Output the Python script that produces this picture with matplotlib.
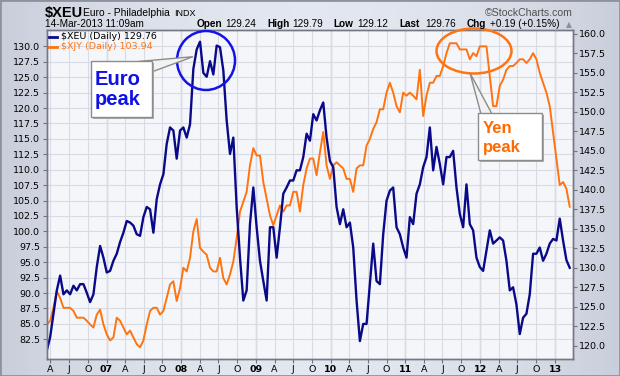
import numpy as np
import pandas as pd
import matplotlib
matplotlib.use("Agg")
import matplotlib.pyplot as plt
from matplotlib.patches import Ellipse, Polygon, Rectangle

xeu = [
    119.4, 121.1, 124.1, 127.1, 129.0, 126.6, 127.1, 126.6, 127.7, 127.1, 127.9, 127.9, 126.8,
    125.6, 126.6, 130.1, 132.8, 131.3, 129.4, 129.6, 130.9, 131.8, 133.3, 134.5, 136.0,
    135.8, 135.4, 134.3, 134.1, 136.5, 137.8, 137.5, 134.5, 138.8, 140.7, 142.0, 145.9, 148.0,
    147.6, 144.0, 147.6, 148.0, 146.7, 148.4, 155.5, 158.0, 159.0, 155.0, 154.5, 156.5, 154.8, 158.5,
    158.3, 155.3, 148.9, 144.6, 146.7, 137.8, 131.3, 125.8, 127.1, 135.6, 140.3, 135.2, 130.9,
    128.3, 125.8, 135.2, 135.2, 131.3, 135.2, 139.5, 140.3, 141.2, 141.2, 142.5, 142.5, 144.2, 147.2,
    146.3, 149.7, 148.9, 150.2, 151.2, 146.7, 143.7, 142.9, 137.8, 135.6, 137.5, 135.2, 135.8,
    132.6, 125.8, 120.6, 122.8, 122.8, 127.9, 133.1, 128.3, 127.9, 134.3, 138.6, 139.9, 140.3, 135.2,
    134.3, 132.6, 131.3, 136.5, 135.6, 139.5, 140.7, 142.9, 144.2, 148.0, 142.5, 145.5, 143.3,
    140.7, 144.2, 144.2, 145.0, 140.3, 136.9, 135.2, 140.7, 135.6, 134.8, 131.3, 130.1, 129.6, 132.2,
    134.8, 133.1, 133.5, 133.9, 133.5, 130.9, 127.1, 127.5, 125.3, 121.5, 123.6, 124.1, 126.6,
    131.8, 131.8, 132.6, 130.9, 131.8, 133.1, 133.7, 133.5, 136.3, 133.5, 131.0, 130.0,
]
xjy = [
    84.9, 85.5, 87.6, 90.3, 89.2, 87.6, 87.6, 87.6, 87.1, 86.0, 86.0, 86.0, 85.5,
    84.9, 84.4, 86.5, 87.3, 84.9, 83.3, 82.3, 82.8, 86.0, 85.5, 84.4, 83.3,
    83.9, 82.8, 81.7, 81.2, 82.3, 84.9, 87.1, 87.6, 87.6, 86.5, 87.1, 89.2, 91.4,
    91.9, 88.7, 90.8, 94.1, 93.5, 95.7, 100.0, 102.0, 97.3, 96.7, 96.2, 94.1, 93.5, 93.5,
    95.7, 92.4, 91.4, 93.0, 95.1, 98.9, 103.2, 104.8, 106.4, 110.7, 113.5, 112.3, 112.3,
    108.0, 105.3, 102.6, 101.0, 102.6, 104.2, 103.2, 104.2, 104.2, 106.4, 106.4, 103.2, 107.5, 110.2,
    111.8, 111.8, 109.1, 112.8, 116.1, 110.7, 108.5, 110.7, 111.2, 110.7, 110.2, 108.5, 108.5,
    106.4, 110.2, 110.7, 110.7, 113.9, 115.0, 116.6, 117.7, 119.8, 119.8, 122.5, 124.1, 122.5, 120.3,
    119.3, 122.5, 122.0, 122.5, 122.0, 121.4, 126.2, 118.7, 122.0, 124.1, 124.1, 125.2, 125.2,
    126.8, 128.9, 130.5, 130.5, 130.5, 129.5, 129.5, 129.5, 127.9, 128.9, 128.4, 130.0, 130.0, 130.0,
    125.2, 120.3, 120.3, 123.6, 124.6, 126.2, 126.8, 126.8, 127.3, 127.9, 127.9, 127.3, 127.9,
    128.9, 127.9, 125.7, 124.1, 122.5, 120.3, 116.1, 111.8, 107.5, 108.0, 106.9, 104.0,
]
dates = pd.date_range("2006-03-15", "2013-03-14", periods=len(xeu))

quarters = pd.date_range("2006-04-01", "2013-01-01", freq="QS")
quarter_labels = [d.strftime("%y") if d.month == 1 else "AJO"[(d.month - 4) // 3]
                  for d in quarters]
left_ticks = np.arange(82.5, 130.1, 2.5)
right_ticks = np.arange(120.0, 160.1, 2.5)

BLUE = "#0a0a88"
ORANGE = "#ff7410"
W, H = 620, 376
L, R, T, B = 46.6, 573.0, 30.0, 359.0


def fx(px):
    return px / W


def fy(py):
    return 1 - py / H


def axx(px):
    return (px - L) / (R - L)


def axy(py):
    return (B - py) / (B - T)


fig = plt.figure(figsize=(6.2, 3.76), dpi=100)
fig.patch.set_facecolor("#d9dde7")

# soft panel gradient behind everything
bg = fig.add_axes([0, 0, 1, 1], zorder=-5)
gx = np.linspace(-1, 1, 200)
shade = 1 - 0.5 * np.abs(gx)[None, :] ** 2
bg.imshow(shade, cmap=plt.matplotlib.colors.LinearSegmentedColormap.from_list(
    "panel", ["#c9cedb", "#e3e7ef"]), aspect="auto", extent=[0, 1, 0, 1],
    vmin=0.5, vmax=1)
bg.axis("off")

ax = fig.add_axes([fx(L), fy(B), (R - L) / W, (B - T) / H])
ax.set_facecolor("#f5f6fa")
ax.plot(dates, xjy, color=ORANGE, lw=1.4)
ax.set_xlim(pd.Timestamp("2006-03-14"), pd.Timestamp("2013-03-30"))
ax.set_ylim(79.3, 132.65)
ax.set_yticks(left_ticks)
ax.set_yticklabels([f"{v:.1f}" for v in left_ticks])
ax.set_xticks(quarters)
ax.set_xticklabels(quarter_labels)
for lab, d in zip(ax.get_xticklabels(), quarters):
    if d.month == 1:
        lab.set_fontweight("bold")
ax.grid(True, color="#d8dbe3", lw=0.8)
for d in quarters[quarters.month == 1]:
    ax.axvline(d, color="#b9bdc8", lw=0.9, zorder=0.5)
ax.set_axisbelow(True)
ax.tick_params(axis="both", labelsize=6.8, length=3, color="#6f7380", pad=1.5)

ax2 = ax.twinx()
ax2.plot(dates, xeu, color=BLUE, lw=1.7)
ax2.set_ylim(118.3, 160.5)
ax2.set_yticks(right_ticks)
ax2.set_yticklabels([f"{v:.1f}" for v in right_ticks])
ax2.tick_params(axis="y", labelsize=6.8, length=3, color="#6f7380", pad=1.5)
for a in (ax, ax2):
    for s in a.spines.values():
        s.set_color("#747886")
        s.set_linewidth(1.0)

# legend
ax2.plot([axx(48), axx(57)], [axy(36.7)] * 2, color=BLUE, lw=2, transform=ax2.transAxes)
ax2.plot([axx(48), axx(57)], [axy(46.7)] * 2, color=ORANGE, lw=2, transform=ax2.transAxes)
ax2.text(axx(61), axy(36.7), "$XEU (Daily) 129.76", transform=ax2.transAxes,
         fontsize=6.8, va="center", color="black")
ax2.text(axx(61), axy(46.7), "$XJY (Daily) 103.94", transform=ax2.transAxes,
         fontsize=6.8, va="center", color=ORANGE)

# annotations
ax2.add_patch(Ellipse((axx(206), axy(60.5)), 58 / (R - L), 59 / (B - T),
                      transform=ax2.transAxes, fill=False, ec="#1414e6", lw=1.8,
                      clip_on=False, zorder=5))
ax2.add_patch(Ellipse((axx(474), axy(51)), 75 / (R - L), 45 / (B - T),
                      transform=ax2.transAxes, fill=False, ec=ORANGE, lw=1.8,
                      clip_on=False, zorder=5))

ax2.add_patch(Polygon([(axx(193), axy(56.7)), (axx(138), axy(61.5)), (axx(151.5), axy(72))],
                      closed=True, transform=ax2.transAxes, fc="#f2f2f2", ec="#8c8c8c",
                      lw=1, zorder=6))
ax2.add_patch(Polygon([(axx(470), axy(73)), (axx(481), axy(114)), (axx(492), axy(114))],
                      closed=True, transform=ax2.transAxes, fc="#f2f2f2", ec="#8c8c8c",
                      lw=1, zorder=6))

for x0, y0, x1, y1 in [(90.7, 61, 151.7, 117), (478, 113, 542, 160)]:
    ax2.add_patch(Rectangle((axx(x0 + 2), axy(y1 + 2)), (x1 - x0) / (R - L), (y1 - y0) / (B - T),
                            transform=ax2.transAxes, fc="#a9abb3", ec="none", zorder=7))
    ax2.add_patch(Rectangle((axx(x0), axy(y1)), (x1 - x0) / (R - L), (y1 - y0) / (B - T),
                            transform=ax2.transAxes, fc="white", ec="#8c8c8c", lw=1, zorder=8))

box_font = dict(family="Liberation Sans", fontweight="bold", transform=ax2.transAxes,
                va="baseline", zorder=9)
ax2.text(axx(95), axy(85), "Euro", fontsize=14.5, color="#1010e8", **box_font)
ax2.text(axx(95), axy(105), "peak", fontsize=14.5, color="#1010e8", **box_font)
ax2.text(axx(483), axy(133.3), "Yen", fontsize=12, color="#ff6a00", **box_font)
ax2.text(axx(483), axy(151.7), "peak", fontsize=12, color="#ff6a00", **box_font)

# header
hf = dict(family="Liberation Sans", va="baseline")
fig.text(fx(44.7), fy(16.5), "$XEU", fontsize=10.5, fontweight="bold", **hf)
fig.text(fx(83), fy(16.5), "Euro - Philadelphia", fontsize=7.4, **hf)
fig.text(fx(174), fy(16.5), "INDX", fontsize=6.5, **hf)
fig.text(fx(573), fy(16.5), "\u00a9StockCharts.com", fontsize=7.6, color="#505050",
         ha="right", **hf)
fig.text(fx(44.7), fy(27), "14-Mar-2013 11:09am", fontsize=7.2, **hf)
quote = [(196.4, "Open", True), (225.3, "129.24", False), (267.6, "High", True),
         (292.5, "129.79", False), (333.2, "Low", True), (357, "129.12", False),
         (399.2, "Last", True), (424.9, "129.76", False), (466.4, "Chg", True),
         (490.1, "+0.19 (+0.15%)", False)]
for px, s, bold in quote:
    fig.text(fx(px), fy(27), s, fontsize=7.2, fontweight="bold" if bold else "normal", **hf)
fig.text(fx(566.4), fy(27), "\u25b2", fontsize=5.5, color="#8a8e98", family="DejaVu Sans",
         va="baseline")

fig.add_artist(Rectangle((0, 0), 1, 1, transform=fig.transFigure, fill=False,
                         ec="#8d929e", lw=2))

fig.savefig("out.png", dpi=100, facecolor=fig.get_facecolor())
